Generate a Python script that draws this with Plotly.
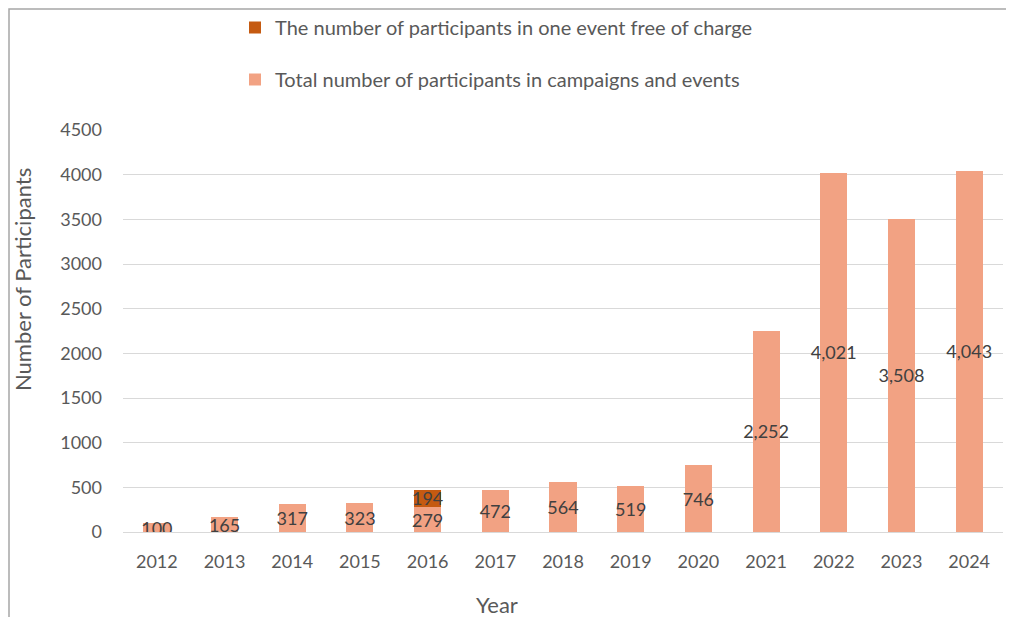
import plotly.graph_objects as go

years = ["2012", "2013", "2014", "2015", "2016", "2017", "2018", "2019", "2020", "2021", "2022", "2023", "2024"]
total_participants = [100, 165, 317, 323, 279, 472, 564, 519, 746, 2252, 4021, 3508, 4043]
free_event = [None, None, None, None, 194, None, None, None, None, None, None, None, None]

name_total = "Total number of participants in campaigns and events"
name_free = "The number of participants in one event free of charge"

FONT = "Lato"
OFF = 8  # page body margin in the screenshot
W, H = 1006, 609
ML, MR, MT, MB = 115, 11, 122, 85
PW, PH = W - ML - MR, H - MT - MB


def px(x):
    return (x - OFF - ML) / PW


def py(y):
    return (H - MB - (y - OFF)) / PH


fig = go.Figure()
fig.add_trace(go.Bar(
    x=years, y=total_participants, name=name_total,
    marker=dict(color="#F2A283", line=dict(width=0)),
    texttemplate="%{y:,}", textposition="inside", insidetextanchor="middle",
    constraintext="none", textangle=0,
    textfont=dict(family=FONT, size=18, color="#404040"),
    legendgroup="b", legendrank=2, width=0.4,
))
fig.add_trace(go.Bar(
    x=years, y=free_event, name=name_free,
    marker=dict(color="#C55A11", line=dict(width=0)),
    texttemplate="%{y:,}", textposition="inside", insidetextanchor="middle",
    constraintext="none", textangle=0,
    textfont=dict(family=FONT, size=18, color="#404040"),
    legendgroup="a", legendrank=1, width=0.4,
))

fig.update_layout(
    width=W, height=H,
    margin=dict(l=ML, r=MR, t=MT, b=MB, autoexpand=False),
    barmode="stack",
    plot_bgcolor="white", paper_bgcolor="white",
    font=dict(family=FONT, color="#595959"),
    showlegend=True,
    legend=dict(
        orientation="v", traceorder="grouped", tracegroupgap=23,
        x=px(235), xanchor="left", y=py(8), yanchor="top",
        font=dict(family=FONT, size=20, color="#595959"),
        bgcolor="rgba(0,0,0,0)",
    ),
    xaxis=dict(
        type="category", showgrid=False, showline=False, zeroline=False,
        tickfont=dict(family=FONT, size=18, color="#595959"),
        ticklabelstandoff=17,
    ),
    yaxis=dict(
        range=[0, 4500], dtick=500, tickformat="d",
        showgrid=True, gridcolor="#D9D9D9", gridwidth=1,
        zeroline=True, zerolinecolor="#D9D9D9", zerolinewidth=1,
        showline=False,
        tickfont=dict(family=FONT, size=18, color="#595959"),
        ticklabelstandoff=20,
    ),
    annotations=[
        dict(text="Number of Participants", x=px(22), y=py(280), xref="paper", yref="paper",
             xanchor="center", yanchor="middle",
             showarrow=False, textangle=-90, font=dict(family=FONT, size=22, color="#595959")),
        dict(text="Year", x=px(497), y=py(604), xref="paper", yref="paper",
             xanchor="center", yanchor="middle",
             showarrow=False, font=dict(family=FONT, size=22, color="#595959")),
    ],
    shapes=[
        dict(type="rect", xref="paper", yref="paper",
             x0=px(9), x1=px(1011), y0=py(640), y1=py(9),
             line=dict(color="#A6A6A6", width=1.5), fillcolor="rgba(0,0,0,0)", layer="below"),
    ],
)

fig.write_html("out.html")
